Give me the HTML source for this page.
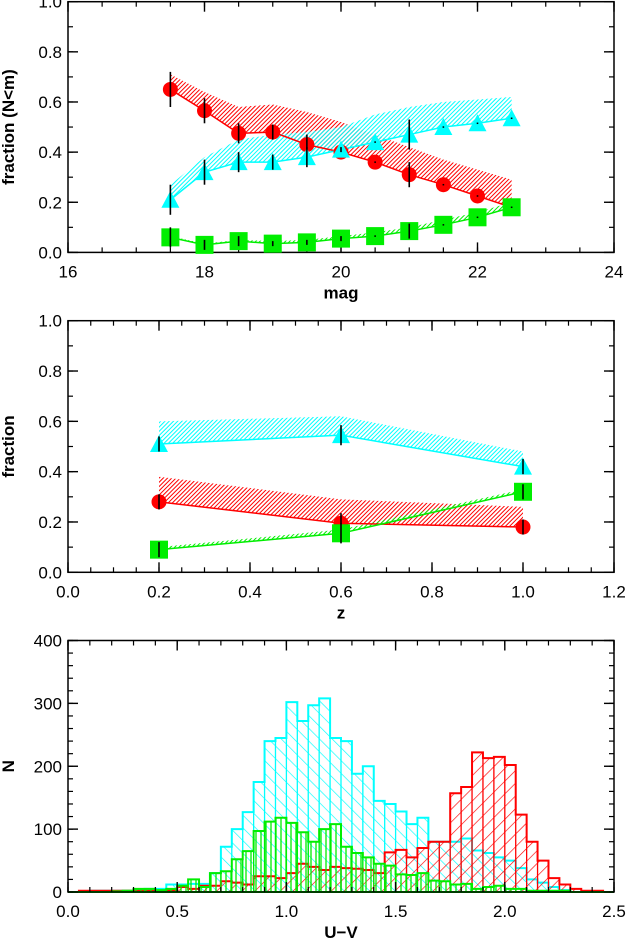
<!DOCTYPE html>
<html><head><meta charset="utf-8"><style>
html,body{margin:0;padding:0;background:#fff;}
svg{display:block;font-family:"Liberation Sans",sans-serif;}
</style></head><body>
<svg id="c" width="627" height="940" viewBox="0 0 627 940" xmlns="http://www.w3.org/2000/svg">
<defs>
<pattern id="hr" width="3" height="3" patternUnits="userSpaceOnUse" patternTransform="rotate(45)"><line x1="0" y1="0" x2="0" y2="3" stroke="#f00" stroke-width="2"/></pattern>
<pattern id="hc" width="3" height="3" patternUnits="userSpaceOnUse" patternTransform="rotate(45)"><line x1="0" y1="0" x2="0" y2="3" stroke="#0ff" stroke-width="2"/></pattern>
<pattern id="hg" width="3" height="3" patternUnits="userSpaceOnUse" patternTransform="rotate(45)"><line x1="0" y1="0" x2="0" y2="3" stroke="#0e0" stroke-width="2"/></pattern>
<pattern id="pc" width="9" height="9" patternUnits="userSpaceOnUse" patternTransform="rotate(-45)"><line x1="0" y1="0" x2="0" y2="9" stroke="#0ff" stroke-width="1.3"/></pattern>
<pattern id="pr" width="9" height="9" patternUnits="userSpaceOnUse" patternTransform="rotate(45)"><line x1="0" y1="0" x2="0" y2="9" stroke="#f00" stroke-width="1.3"/></pattern>
<pattern id="pg" width="5" height="5" patternUnits="userSpaceOnUse"><line x1="1" y1="0" x2="1" y2="5" stroke="#0e0" stroke-width="1.3"/></pattern>
</defs>
</svg>
<script>
// ---- panel 1 data ----
const magX = [17.5,18,18.5,19,19.5,20,20.5,21,21.5,22,22.5];
const redMag = [0.65,0.565,0.475,0.48,0.43,0.40,0.36,0.31,0.27,0.225,0.18];
const redMagUp = [0.71,0.64,0.58,0.59,0.56,0.52,0.47,0.42,0.37,0.33,0.29];
const redMagErr = [0.07,0.05,0.04,0.03,0.04,0.02,0.0,0.05,0.0,0.0,0.0];
const cyanMag = [0.21,0.32,0.36,0.36,0.38,0.41,0.44,0.47,0.50,0.515,0.535];
const cyanMagUp = [0.27,0.38,0.45,0.47,0.48,0.50,0.55,0.58,0.60,0.61,0.62];
const cyanMagErr = [0.06,0.05,0.04,0.03,0.04,0.01,0.0,0.06,0.0,0.0,0.0];
const greenMag = [0.06,0.03,0.045,0.035,0.04,0.055,0.065,0.085,0.11,0.14,0.18];
const greenMagUp = [0.065,0.035,0.05,0.045,0.05,0.065,0.08,0.10,0.13,0.16,0.20];
const greenMagErr = [0.04,0.02,0.02,0.01,0.01,0.01,0.0,0.03,0.0,0.0,0.0];
// ---- panel 2 data ----
const zX = [0.2,0.6,1.0];
const cyanZ = [0.51,0.545,0.42];
const cyanZUp = [0.60,0.62,0.48];
const redZ = [0.28,0.195,0.18];
const redZUp = [0.38,0.29,0.26];
const greenZ = [0.09,0.155,0.32];
const greenZUp = [0.10,0.17,0.33];
const errZ = [0.03,0.04,0.03];
// ---- panel 3 data (bins of 0.05 from 0.0) ----
const binStart = 0.0, binW = 0.05;
const cyanHist = [0,0,2,2,2,2,3,5,5,12,12,13,13,30,72,100,127,175,240,245,302,272,297,308,245,240,188,200,145,140,128,108,118,80,80,80,85,66,62,55,50,38,20,15,8,3,0,0,0,0];
const redHist = [0,2,2,2,2,2,2,2,2,3,8,5,10,10,17,15,12,25,25,22,30,45,40,35,40,38,37,35,30,63,67,55,70,80,80,157,167,222,213,215,202,123,80,50,22,12,5,2,2,0];
const greenHist = [0,0,0,0,1,2,5,5,3,5,10,20,8,30,33,52,65,97,112,118,110,95,80,100,108,72,62,55,45,42,28,27,30,18,17,12,13,5,8,10,5,5,2,2,2,2,0,0,0,0];
const tickP1x = ['16','18','20','22','24'];
const tickFrac = ['0.0','0.2','0.4','0.6','0.8','1.0'];
const tickP2x = ['0.0','0.2','0.4','0.6','0.8','1.0','1.2'];
const tickP3x = ['0.0','0.5','1.0','1.5','2.0','2.5'];
const tickP3y = ['0','100','200','300','400'];

const NS='http://www.w3.org/2000/svg';
const svg=document.getElementById('c');
function mk(tag,attrs,parent){const e=document.createElementNS(NS,tag);for(const k in attrs)e.setAttribute(k,attrs[k]);(parent||svg).appendChild(e);return e;}
const L=68,R=614;
function axes(x0,x1,y0,y1,top,bot){
  return {x:v=>L+(v-x0)/(x1-x0)*(R-L), y:v=>bot-(v-y0)/(y1-y0)*(bot-top), top,bot};
}
function frame(ax,xt,xv,xminor,yt,yv,yminor,xlab,ylab,name){
  const g=mk('g',{});
  
  
  mk('rect',{x:L,y:ax.top,width:R-L,height:ax.bot-ax.top,fill:'none',stroke:'#000','stroke-width':1.5},g);
  xminor.forEach(v=>{const x=ax.x(v);mk('line',{x1:x,x2:x,y1:ax.bot,y2:ax.bot-5,stroke:'#000','stroke-width':1.2},g);mk('line',{x1:x,x2:x,y1:ax.top,y2:ax.top+5,stroke:'#000','stroke-width':1.2},g);});
  yminor.forEach(v=>{const y=ax.y(v);mk('line',{x1:L,x2:L+5,y1:y,y2:y,stroke:'#000','stroke-width':1.2},g);mk('line',{x1:R,x2:R-5,y1:y,y2:y,stroke:'#000','stroke-width':1.2},g);});
  xv.forEach((v,i)=>{const x=ax.x(v);mk('line',{x1:x,x2:x,y1:ax.bot,y2:ax.bot-10,stroke:'#000','stroke-width':1.4},g);mk('line',{x1:x,x2:x,y1:ax.top,y2:ax.top+10,stroke:'#000','stroke-width':1.4},g);
    const t=mk('text',{x:x,y:ax.bot+25,'text-anchor':'middle','font-size':17,fill:'#000'},g);t.textContent=xt[i];
    });
  yv.forEach((v,i)=>{const y=ax.y(v);mk('line',{x1:L,x2:L+10,y1:y,y2:y,stroke:'#000','stroke-width':1.4},g);mk('line',{x1:R,x2:R-10,y1:y,y2:y,stroke:'#000','stroke-width':1.4},g);
    const t=mk('text',{x:L-6,y:y+6,'text-anchor':'end','font-size':17,fill:'#000'},g);t.textContent=yt[i];
    });
  const xl=mk('text',{x:(L+R)/2,y:ax.bot+46,'text-anchor':'middle','font-size':17,'font-weight':'bold',fill:'#000'},g);xl.textContent=xlab;
  
  const cy=(ax.top+ax.bot)/2;
  const yl=mk('text',{x:14,y:cy,'text-anchor':'middle','font-size':17,'font-weight':'bold',fill:'#000',transform:`rotate(-90 14 ${cy})`},g);yl.textContent=ylab;
  
}
function range(a,b,s){const r=[];for(let v=a;v<=b+1e-9;v+=s)r.push(+v.toFixed(4));return r;}
function band(ax,xs,lo,hi,pat,name){
  let d='M'+xs.map((x,i)=>ax.x(x)+','+ax.y(hi[i])).join('L');
  for(let i=xs.length-1;i>=0;i--)d+='L'+ax.x(xs[i])+','+ax.y(lo[i]);
  const p=mk('path',{d:d+'Z',fill:`url(#${pat})`,stroke:'none'});
  
}
function line(ax,xs,ys,col,name){
  const p=mk('polyline',{points:xs.map((x,i)=>ax.x(x)+','+ax.y(ys[i])).join(' '),fill:'none',stroke:col,'stroke-width':1.5});
  
}
function markers(ax,xs,ys,errs,type,col,name){
  xs.forEach((x,i)=>{
    const cx=ax.x(x),cy=ax.y(ys[i]);let m;
    if(type==='c')m=mk('circle',{cx,cy,r:7.5,fill:col});
    else if(type==='t')m=mk('polygon',{points:`${cx-9},${cy+8} ${cx+9},${cy+8} ${cx},${cy-9}`,fill:col});
    else m=mk('rect',{x:cx-9,y:cy-9,width:18,height:18,fill:col});
    
    const e=errs[i]||0.003;
    const el=mk('line',{x1:cx,x2:cx,y1:ax.y(ys[i]+e),y2:ax.y(ys[i]-e),stroke:'#000','stroke-width':1.6});
    
  });
}
// Panel 1
const a1=axes(16,24,0,1,1.7,252.4);
frame(a1,tickP1x,[16,18,20,22,24],range(16,24,0.5),tickFrac,[0,0.2,0.4,0.6,0.8,1.0],range(0,1,0.1),'mag','fraction  (N<m)','mag-panel');
band(a1,magX,redMag,redMagUp,'hr','red-band-mag');
band(a1,magX,cyanMag,cyanMagUp,'hc','cyan-band-mag');
band(a1,magX,greenMag,greenMagUp,'hg','green-band-mag');
line(a1,magX,redMag,'#f00','red-line-mag');line(a1,magX,cyanMag,'#0ff','cyan-line-mag');line(a1,magX,greenMag,'#0e0','green-line-mag');
markers(a1,magX,redMag,redMagErr,'c','#f00','red-point-mag');
markers(a1,magX,cyanMag,cyanMagErr,'t','#0ff','cyan-point-mag');
markers(a1,magX,greenMag,greenMagErr,'s','#0e0','green-point-mag');
// Panel 2
const a2=axes(0,1.2,0,1,320.7,572.3);
frame(a2,tickP2x,[0,0.2,0.4,0.6,0.8,1.0,1.2],range(0,1.2,0.05),tickFrac,[0,0.2,0.4,0.6,0.8,1.0],range(0,1,0.1),'z','fraction','z-panel');
band(a2,zX,redZ,redZUp,'hr','red-band-z');
band(a2,zX,cyanZ,cyanZUp,'hc','cyan-band-z');
band(a2,zX,greenZ,greenZUp,'hg','green-band-z');
line(a2,zX,redZ,'#f00','red-line-z');line(a2,zX,cyanZ,'#0ff','cyan-line-z');line(a2,zX,greenZ,'#0e0','green-line-z');
markers(a2,zX,cyanZ,errZ,'t','#0ff','cyan-point-z');
markers(a2,zX,redZ,errZ,'c','#f00','red-point-z');
markers(a2,zX,greenZ,errZ,'s','#0e0','green-point-z');
// Panel 3
const a3=axes(0,2.5,0,400,640.5,892);
function hist(vals,pat,col,name){
  let d='M'+a3.x(binStart)+','+a3.y(0);
  vals.forEach((v,i)=>{const x0=a3.x(binStart+i*binW),x1=a3.x(binStart+(i+1)*binW);d+=`L${x0},${a3.y(v)}L${x1},${a3.y(v)}`;});
  d+='L'+a3.x(binStart+vals.length*binW)+','+a3.y(0)+'Z';
  const p=mk('path',{d,fill:`url(#${pat})`,stroke:col,'stroke-width':2});
  
  vals.forEach((v,i)=>{if(v>0){const x=a3.x(binStart+i*binW);mk('line',{x1:x,x2:x,y1:a3.y(0),y2:a3.y(Math.min(v,vals[i-1]||0)),stroke:col,'stroke-width':1.3});}});
}
hist(cyanHist,'pc','#0ff','cyan-histogram');
hist(redHist,'pr','#f00','red-histogram');
hist(greenHist,'pg','#0e0','green-histogram');
frame(a3,tickP3x,[0,0.5,1,1.5,2,2.5],range(0,2.5,0.1),tickP3y,[0,100,200,300,400],range(0,400,20),'U\u2212V','N','color-panel');
</script>
</body></html>
